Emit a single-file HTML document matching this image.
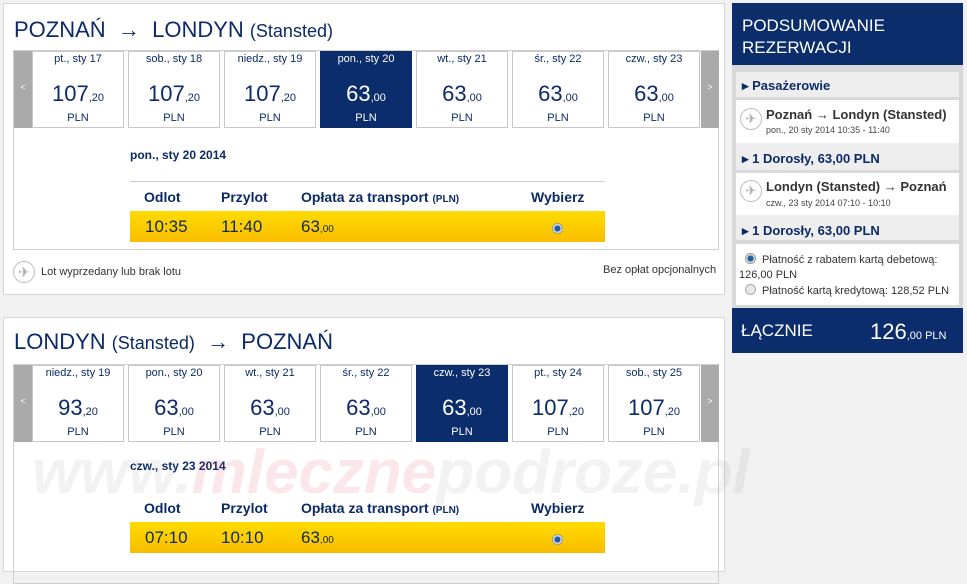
<!DOCTYPE html>
<html><head><meta charset="utf-8"><style>
*{margin:0;padding:0;box-sizing:border-box}
body{width:967px;height:567px;background:#f1f1f1;font-family:"Liberation Sans",Arial,sans-serif;color:#0c2a67;position:relative;overflow:hidden}
.abs{position:absolute}
.panel{position:absolute;left:3px;width:722px;background:#fff;border:1px solid #d6d6d6}
.title{position:absolute;left:10px;font-size:22px;color:#0c2a67;white-space:nowrap}
.title small{font-size:18px}
.inner{position:absolute;left:9px;width:706px;border:1px solid #cfcfcf;background:transparent}
.arr{position:absolute;top:0;width:18px;height:77px;background:#aaa;color:#fff;font-size:9px;text-align:center;line-height:72px}
.card{position:absolute;top:0;width:92px;height:77px;border:1px solid #c8c8c8;background:#fff;text-align:center;color:#0c2a67}
.card .d{font-size:11px;margin-top:1px;height:14px}
.card .p{font-size:22px;margin-top:14px;height:26px}
.card .p span{font-size:11px}
.card .c{font-size:11px;margin-top:5px}
.card.sel{background:#0c2d6b;border-color:#0c2d6b;color:#fff}
.dl{position:absolute;left:116px;font-size:12px;font-weight:bold}
.hdr{position:absolute;left:116px;width:475px;border-top:1px solid #ccc;height:30px;font-size:14px;font-weight:bold}
.hdr span,.row span{position:absolute;top:7px}
.row{position:absolute;left:116px;width:475px;height:31px;background:linear-gradient(#ffdb00,#f9bd00);font-size:17px;color:#0c2a4a}
.row span{top:6px}
.row small{font-size:10px}
.radio{position:absolute;width:11px;height:11px;border-radius:50%;background:radial-gradient(#1b5fa0 35%,#eee 45%,#888 70%)}
.rp{position:absolute;left:732px;width:231px}
.navy{background:#0c2d6b;color:#fff}
.wm{position:absolute;font-size:62px;font-weight:bold;font-style:italic;white-space:nowrap}
</style></head><body>

<div class="panel" style="top:3px;height:292px">
 <div class="title" style="top:13px">POZNAŃ &nbsp;→&nbsp; LONDYN <small>(Stansted)</small></div>
 <div class="inner" style="top:46px;height:200px">
  <div class="arr" style="left:0">&lt;</div>
  <div class="card" style="left:18px"><div class="d">pt., sty 17</div><div class="p">107<span>,20</span></div><div class="c">PLN</div></div>
  <div class="card" style="left:114px"><div class="d">sob., sty 18</div><div class="p">107<span>,20</span></div><div class="c">PLN</div></div>
  <div class="card" style="left:210px"><div class="d">niedz., sty 19</div><div class="p">107<span>,20</span></div><div class="c">PLN</div></div>
  <div class="card sel" style="left:306px"><div class="d">pon., sty 20</div><div class="p">63<span>,00</span></div><div class="c">PLN</div></div>
  <div class="card" style="left:402px"><div class="d">wt., sty 21</div><div class="p">63<span>,00</span></div><div class="c">PLN</div></div>
  <div class="card" style="left:498px"><div class="d">śr., sty 22</div><div class="p">63<span>,00</span></div><div class="c">PLN</div></div>
  <div class="card" style="left:594px"><div class="d">czw., sty 23</div><div class="p">63<span>,00</span></div><div class="c">PLN</div></div>
  <div class="arr" style="left:687px">&gt;</div>
  <div class="dl" style="top:97px">pon., sty 20 2014</div>
  <div class="hdr" style="top:130px"><span style="left:14px">Odlot</span><span style="left:91px">Przylot</span><span style="left:171px">Opłata za transport <small style="font-size:10px">(PLN)</small></span><span style="left:401px">Wybierz</span></div>
  <div class="row" style="top:160px"><span style="left:15px">10:35</span><span style="left:91px">11:40</span><span style="left:171px">63<small>,00</small></span><div class="radio" style="left:422px;top:12px"></div></div>
 </div>
 <div class="abs" style="left:9px;top:257px;width:22px;height:22px;border:1px solid #bbb;border-radius:50%;color:#aaa;font-size:14px;text-align:center;line-height:20px">✈</div>
 <div class="abs" style="left:37px;top:262px;font-size:11px;color:#333">Lot wyprzedany lub brak lotu</div>
 <div class="abs" style="left:599px;top:260px;font-size:11px;color:#333">Bez opłat opcjonalnych</div>
</div>

<div class="panel" style="top:317px;height:255px">
 <div class="title" style="top:11px">LONDYN <small>(Stansted)</small> &nbsp;→&nbsp; POZNAŃ</div>
 <div class="inner" style="top:46px;height:220px">
  <div class="arr" style="left:0">&lt;</div>
  <div class="card" style="left:18px"><div class="d">niedz., sty 19</div><div class="p">93<span>,20</span></div><div class="c">PLN</div></div>
  <div class="card" style="left:114px"><div class="d">pon., sty 20</div><div class="p">63<span>,00</span></div><div class="c">PLN</div></div>
  <div class="card" style="left:210px"><div class="d">wt., sty 21</div><div class="p">63<span>,00</span></div><div class="c">PLN</div></div>
  <div class="card" style="left:306px"><div class="d">śr., sty 22</div><div class="p">63<span>,00</span></div><div class="c">PLN</div></div>
  <div class="card sel" style="left:402px"><div class="d">czw., sty 23</div><div class="p">63<span>,00</span></div><div class="c">PLN</div></div>
  <div class="card" style="left:498px"><div class="d">pt., sty 24</div><div class="p">107<span>,20</span></div><div class="c">PLN</div></div>
  <div class="card" style="left:594px"><div class="d">sob., sty 25</div><div class="p">107<span>,20</span></div><div class="c">PLN</div></div>
  <div class="arr" style="left:687px">&gt;</div>
  <div class="dl" style="top:94px">czw., sty 23 2014</div>
  <div class="hdr" style="top:128px;border-top:0"><span style="left:14px">Odlot</span><span style="left:91px">Przylot</span><span style="left:171px">Opłata za transport <small style="font-size:10px">(PLN)</small></span><span style="left:401px">Wybierz</span></div>
  <div class="row" style="top:157px"><span style="left:15px">07:10</span><span style="left:91px">10:10</span><span style="left:171px">63<small>,00</small></span><div class="radio" style="left:422px;top:12px"></div></div>
 </div>
</div>
<div class="wm" style="left:32px;top:437px;color:rgba(150,150,150,.12)">www.<span style="color:rgba(220,60,70,.12)">mleczne</span>podroze.pl</div>

<div class="rp navy" style="top:3px;height:62px;padding:12px 0 0 10px;font-size:17px;line-height:22px">PODSUMOWANIE<br>REZERWACJI</div>
<div class="rp" style="top:65px;height:243px;background:#d8d8d8"></div>
<div class="rp" style="top:72px;left:736px;width:223px;height:25px;background:#eee;font-size:13px;font-weight:bold;padding:6px 0 0 6px">▸ Pasażerowie</div>
<div class="rp" style="top:100px;left:736px;width:223px;height:43px;background:#fff"></div>
<div class="abs" style="left:740px;top:108px;width:22px;height:22px;border:1px solid #bbb;border-radius:50%;color:#aaa;font-size:13px;text-align:center;line-height:20px">✈</div>
<div class="abs" style="left:766px;top:107px;font-size:13px;font-weight:bold;color:#333;white-space:nowrap">Poznań → Londyn (Stansted)</div>
<div class="abs" style="left:766px;top:125px;font-size:9px;color:#444">pon., 20 sty 2014 10:35 - 11:40</div>
<div class="rp" style="top:143px;left:736px;width:223px;height:27px;background:#eee;font-size:13px;font-weight:bold;padding:8px 0 0 6px">▸ 1 Dorosły, 63,00 PLN</div>
<div class="rp" style="top:173px;left:736px;width:223px;height:42px;background:#fff"></div>
<div class="abs" style="left:740px;top:180px;width:22px;height:22px;border:1px solid #bbb;border-radius:50%;color:#aaa;font-size:13px;text-align:center;line-height:20px">✈</div>
<div class="abs" style="left:766px;top:179px;font-size:13px;font-weight:bold;color:#333;white-space:nowrap">Londyn (Stansted) → Poznań</div>
<div class="abs" style="left:766px;top:198px;font-size:9px;color:#444">czw., 23 sty 2014 07:10 - 10:10</div>
<div class="rp" style="top:215px;left:736px;width:223px;height:25px;background:#eee;font-size:13px;font-weight:bold;padding:8px 0 0 6px">▸ 1 Dorosły, 63,00 PLN</div>
<div class="rp" style="top:244px;left:736px;width:223px;height:61px;background:#fff;font-size:11px;color:#333;line-height:15px;padding:8px 0 0 3px">
 <div><span class="radio" style="position:relative;display:inline-block;top:1px;margin:0 6px 0 6px"></span>Płatność z rabatem kartą debetową:</div>
 <div>126,00 PLN</div>
 <div><span style="display:inline-block;width:11px;height:11px;border-radius:50%;border:1px solid #aaa;background:#e8e8e8;margin:0 6px 0 6px;position:relative;top:1px"></span>Płatność kartą kredytową: 128,52 PLN</div>
</div>
<div class="rp navy" style="top:308px;height:45px"></div>
<div class="abs" style="left:741px;top:321px;font-size:17px;color:#fff">ŁĄCZNIE</div>
<div class="abs" style="left:870px;top:319px;font-size:22px;color:#fff;white-space:nowrap">126<span style="font-size:11px">,00 PLN</span></div>
</body></html>
